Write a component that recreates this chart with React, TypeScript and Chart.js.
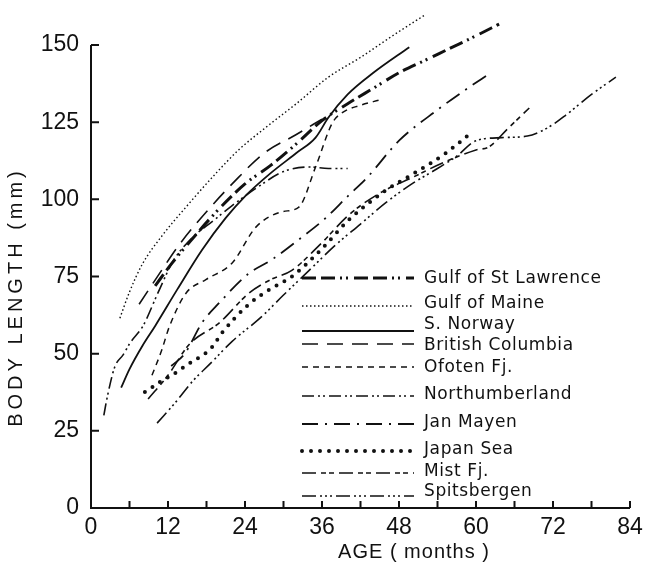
import React, { useEffect, useRef } from "react";
import { Chart, registerables } from "chart.js";

Chart.register(...registerables);

// ---------- data ----------
const seriesNames = [
  "Gulf of St Lawrence",
  "Gulf of Maine",
  "S. Norway",
  "British Columbia",
  "Ofoten Fj.",
  "Northumberland",
  "Jan Mayen",
  "Japan Sea",
  "Mist Fj.",
  "Spitsbergen",
];

const gslAge = [10, 12.5, 15.7, 20, 24, 28, 32, 36, 40, 44, 48, 52, 56, 60, 63.6];
const gslLen = [72, 79, 87, 97, 105, 111, 118, 125.5, 131, 136, 141, 145, 149, 153, 156.8];

const gomAge = [4.5, 6, 8, 11, 14.8, 19.5, 23, 27.3, 32, 37, 42, 47, 52];
const gomLen = [61.5, 70, 79, 88, 97.5, 108.5, 116, 123.4, 131, 139.6, 146, 153, 159.7];

const snAge = [4.7, 6, 8, 10, 13.5, 17.3, 21, 24, 28, 32, 35, 37, 40, 44, 49.6];
const snLen = [39, 45, 52.5, 59, 71, 83.6, 94, 101, 108.5, 115, 120, 126.5, 134, 141, 149.3];

const bcAge = [7.5, 11, 14, 18, 22, 27, 32, 36];
const bcLen = [66, 77, 86, 96, 105, 115, 121, 126];

const ofoAge = [9.5, 11, 12.2, 14.8, 17.9, 22, 25.7, 29.8, 32.4, 35, 37.6, 39.1, 42, 45];
const ofoLen = [43, 51, 58.7, 69.6, 74, 79.4, 91, 96, 97.5, 110.5, 124.7, 128, 130.5, 132.2];

const nthAge = [2, 2.5, 3.7, 5, 6.1, 8.1, 10.5, 12.8, 16, 19, 22, 26, 30, 34, 37, 40];
const nthLen = [30, 35.6, 45.7, 49.6, 53.5, 59, 70, 80, 88, 93, 98, 104, 109, 110.5, 110, 110];

const janAge = [12.5, 14.6, 17.3, 20, 24.6, 28.2, 32.4, 36.6, 40, 43, 48, 54, 58, 62.3];
const janLen = [46, 50, 60, 66.5, 76, 80.5, 87, 94, 101, 107, 119, 129, 135, 141];

const jpsAge = [8.4, 9.6, 10.7, 11.8, 13.4, 14.9, 16.2, 17.5, 18.9, 20.4, 24.6, 28, 31.3, 36, 40, 42.2, 46, 50, 55.3, 59.2];
const jpsLen = [37.6, 39.2, 40.8, 42.1, 44.1, 46.3, 48, 49.6, 52.2, 56.7, 66, 71, 75, 84, 93, 97, 103, 108, 115, 121.5];

const mistAge = [8.9, 12, 15.3, 20, 24.6, 28, 31.3, 36, 40.2, 45, 50, 55, 60, 62, 65, 68.3];
const mistLen = [35.3, 43, 53, 60, 69.6, 74, 77, 86, 95, 102, 107, 112, 116, 117, 123, 129.6];

const spiAge = [10.3, 13.2, 15.8, 18.7, 22, 26.6, 30, 34, 38, 42, 46, 50, 54, 57, 60, 64, 68, 71, 74, 78, 81.8];
const spiLen = [27.5, 34.3, 41, 47, 54, 62, 69, 77, 85, 92, 99, 105, 110, 114, 119, 120, 120.5, 123, 127.3, 134, 139.6];

const seriesAges = [gslAge, gomAge, snAge, bcAge, ofoAge, nthAge, janAge, jpsAge, mistAge, spiAge];
const seriesLens = [gslLen, gomLen, snLen, bcLen, ofoLen, nthLen, janLen, jpsLen, mistLen, spiLen];

const xTickValues = [0, 12, 24, 36, 48, 60, 72, 84];
const xMinorTicks = [6, 12, 18, 24, 30, 36, 42, 48, 54, 60, 66, 72, 78, 84];
const yTickValues = [0, 25, 50, 75, 100, 125, 150];

const xTitle = "AGE ( months )";
const yTitle = "BODY LENGTH (mm)";

// ---------- styles ----------
const lineStyles = [
  { dash: [14, 5, 14, 5, 2, 4, 2, 6], width: 3, cap: "butt" },
  { dash: [1.5, 2.5], width: 1.4, cap: "butt" },
  { dash: [], width: 1.8, cap: "butt" },
  { dash: [16, 9], width: 1.6, cap: "butt" },
  { dash: [6, 5], width: 1.5, cap: "butt" },
  { dash: [12, 4, 2, 3, 2, 4], width: 1.6, cap: "butt" },
  { dash: [16, 7, 2, 7], width: 1.8, cap: "butt" },
  { dash: [0, 9], width: 4, cap: "round" },
  { dash: [14, 5, 5, 3, 5, 5], width: 1.6, cap: "butt" },
  { dash: [14, 4, 2, 3, 2, 3, 2, 4], width: 1.6, cap: "butt" },
];

const INK = "#111111";
const legendTextY = [279, 304, 325, 346, 368, 395, 423, 450, 472, 492];
const legendLineY = [278, 306, 331, 344, 367, 396, 424, 451, 473, 496];

const decoPlugin = {
  id: "deco",
  afterDraw(chart: any) {
    const { ctx, scales } = chart;
    const x = scales.x;
    const y = scales.y;
    ctx.save();
    ctx.strokeStyle = INK;
    ctx.fillStyle = INK;
    ctx.lineWidth = 2;
    ctx.setLineDash([]);
    const x0 = x.getPixelForValue(0);
    const xEnd = x.getPixelForValue(84);
    const y0 = y.getPixelForValue(0);
    const yTop = y.getPixelForValue(150);
    ctx.beginPath();
    ctx.moveTo(x0, yTop);
    ctx.lineTo(x0, y0);
    ctx.lineTo(xEnd, y0);
    for (const v of yTickValues) {
      const py = y.getPixelForValue(v);
      ctx.moveTo(x0, py);
      ctx.lineTo(x0 + 8, py);
    }
    for (const a of xMinorTicks) {
      const px = x.getPixelForValue(a);
      ctx.moveTo(px, y0);
      ctx.lineTo(px, y0 - 7);
    }
    ctx.stroke();

    // legend
    const lx0 = 302;
    const lx1 = 414;
    for (let i = 0; i < seriesNames.length; i++) {
      const st = lineStyles[i];
      ctx.save();
      ctx.lineWidth = st.width;
      ctx.lineCap = st.cap;
      ctx.setLineDash(st.dash);
      ctx.beginPath();
      ctx.moveTo(lx0, legendLineY[i]);
      ctx.lineTo(lx1, legendLineY[i]);
      ctx.stroke();
      ctx.restore();
      ctx.font = "17px 'DejaVu Sans'";
      (ctx as any).letterSpacing = "0.6px";
      ctx.textAlign = "left";
      ctx.textBaseline = "middle";
      ctx.fillText(seriesNames[i], 424, legendTextY[i]);
    }

    // axis titles
    ctx.font = "20px 'Liberation Sans'";
    (ctx as any).letterSpacing = "1px";
    ctx.textAlign = "center";
    ctx.textBaseline = "middle";
    ctx.fillText(xTitle, 414, 552);

    ctx.save();
    ctx.translate(16, 297);
    ctx.rotate(-Math.PI / 2);
    (ctx as any).letterSpacing = "4px";
    ctx.fillText(yTitle, 0, 0);
    ctx.restore();
    ctx.restore();
  },
};

export default function App() {
  const ref = useRef<HTMLCanvasElement>(null);
  useEffect(() => {
    document.body.style.margin = "0";
    const datasets = seriesNames.map((name, i) => ({
      label: name,
      data: seriesAges[i].map((a, j) => ({ x: a, y: seriesLens[i][j] })),
      borderColor: INK,
      borderWidth: lineStyles[i].width,
      borderDash: lineStyles[i].dash,
      borderCapStyle: lineStyles[i].cap,
      pointRadius: 0,
      fill: false,
      cubicInterpolationMode: "monotone",
    }));
    const tickFont = { family: "'Liberation Sans'", size: 23 };
    const chart = new Chart(ref.current as HTMLCanvasElement, {
      type: "line",
      data: { datasets } as any,
      options: {
        animation: false,
        responsive: false,
        layout: { padding: { left: 8, right: 19, top: 8, bottom: 0 } },
        plugins: { legend: { display: false }, tooltip: { enabled: false } },
        scales: {
          x: {
            type: "linear",
            min: 0,
            max: 84,
            grid: { display: false, drawTicks: false },
            border: { display: false },
            ticks: { font: tickFont, color: INK, padding: 6, maxRotation: 0, autoSkip: false },
            afterBuildTicks: (s: any) => {
              s.ticks = xTickValues.map((v) => ({ value: v }));
            },
            afterFit: (s: any) => {
              s.height = 56;
              s.paddingLeft = 0;
              s.paddingRight = 0;
            },
          },
          y: {
            type: "linear",
            min: 0,
            max: 162,
            grid: { display: false, drawTicks: false },
            border: { display: false },
            ticks: { font: tickFont, color: INK, padding: 12, autoSkip: false },
            afterBuildTicks: (s: any) => {
              s.ticks = yTickValues.map((v) => ({ value: v }));
            },
            afterFit: (s: any) => {
              s.width = 83;
              s.paddingTop = 0;
              s.paddingBottom = 0;
            },
          },
        },
      } as any,
      plugins: [decoPlugin],
    });
    return () => chart.destroy();
  }, []);
  return (
    <div style={{ width: 649, height: 564 }}>
      <canvas ref={ref} width={649} height={564} style={{ display: "block" }} />
    </div>
  );
}
